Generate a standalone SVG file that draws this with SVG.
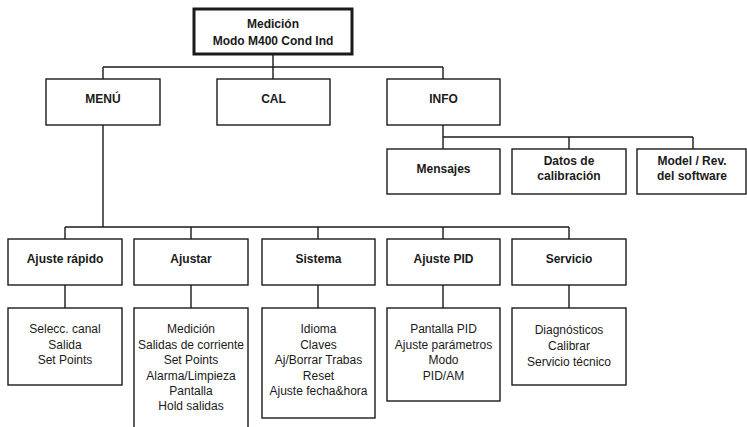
<svg xmlns="http://www.w3.org/2000/svg" width="747" height="427" viewBox="0 0 747 427">
<style>
.b{fill:#fff;stroke:#1a1a1a;stroke-width:1.4}
.t{fill:#fff;stroke:#1a1a1a;stroke-width:3}
.h{font-family:"Liberation Sans",Arial,sans-serif;font-weight:bold;font-size:12px;fill:#1a1a1a;text-anchor:middle}
.n{font-family:"Liberation Sans",Arial,sans-serif;font-size:12px;fill:#1a1a1a;text-anchor:middle}
.c{fill:none;stroke:#1a1a1a;stroke-width:1.4}
</style>
<g id="connectors" class="c">
<path d="M273 55V67M103 67H443M103 67V79M273 67V79M443 67V79"/>
<path d="M443 125V137H693M443 137V149M569 137V149M693 137V149"/>
<path d="M103 125V227M65 227H569M65 227V239M191 227V239M318 227V239M443 227V239M569 227V239"/>
<path d="M65 285V308M191 285V308M318 285V308M443 285V308M569 285V308"/>
</g>
<g id="root"><rect class="t" x="194" y="9" width="158" height="45"/><text class="h" x="273" y="28">Medición</text><text class="h" x="273" y="45">Modo M400 Cond Ind</text></g>
<g id="menu"><rect class="b" x="46" y="79" width="114" height="46"/><text class="h" x="103" y="103">MENÚ</text></g>
<g id="cal"><rect class="b" x="217" y="79" width="113" height="46"/><text class="h" x="273.5" y="103">CAL</text></g>
<g id="info"><rect class="b" x="387" y="79" width="113" height="46"/><text class="h" x="443.5" y="103">INFO</text></g>
<g id="mensajes"><rect class="b" x="387" y="149" width="113" height="45"/><text class="h" x="443.5" y="173">Mensajes</text></g>
<g id="datos"><rect class="b" x="512" y="149" width="114" height="45"/><text class="h" x="569" y="165">Datos de</text><text class="h" x="569" y="180">calibración</text></g>
<g id="model"><rect class="b" x="637" y="149" width="109" height="45"/><text class="h" x="692" y="165">Model / Rev.</text><text class="h" x="692" y="180">del software</text></g>
<g id="ajuste-rapido"><rect class="b" x="8" y="239" width="114" height="46"/><text class="h" x="65" y="263">Ajuste rápido</text></g>
<g id="ajustar"><rect class="b" x="134" y="239" width="114" height="46"/><text class="h" x="191" y="263">Ajustar</text></g>
<g id="sistema"><rect class="b" x="262" y="239" width="113" height="46"/><text class="h" x="318.5" y="263">Sistema</text></g>
<g id="ajuste-pid"><rect class="b" x="387" y="239" width="113" height="46"/><text class="h" x="443.5" y="263">Ajuste PID</text></g>
<g id="servicio"><rect class="b" x="512" y="239" width="114" height="46"/><text class="h" x="569" y="263">Servicio</text></g>
<g id="ajuste-rapido-items"><rect class="b" x="8" y="308" width="114" height="77"/><text class="n" x="65" y="333">Selecc. canal</text><text class="n" x="65" y="349">Salida</text><text class="n" x="65" y="364">Set Points</text></g>
<g id="ajustar-items"><rect class="b" x="134" y="308" width="114" height="130"/><text class="n" x="191" y="333">Medición</text><text class="n" x="191" y="349">Salidas de corriente</text><text class="n" x="191" y="364">Set Points</text><text class="n" x="191" y="380">Alarma/Limpieza</text><text class="n" x="191" y="395">Pantalla</text><text class="n" x="191" y="410">Hold salidas</text></g>
<g id="sistema-items"><rect class="b" x="262" y="308" width="113" height="110"/><text class="n" x="318.5" y="333">Idioma</text><text class="n" x="318.5" y="349">Claves</text><text class="n" x="318.5" y="364">Aj/Borrar Trabas</text><text class="n" x="318.5" y="380">Reset</text><text class="n" x="318.5" y="395">Ajuste fecha&amp;hora</text></g>
<g id="ajuste-pid-items"><rect class="b" x="387" y="308" width="113" height="93"/><text class="n" x="443.5" y="333">Pantalla PID</text><text class="n" x="443.5" y="349">Ajuste parámetros</text><text class="n" x="443.5" y="364">Modo</text><text class="n" x="443.5" y="380">PID/AM</text></g>
<g id="servicio-items"><rect class="b" x="512" y="308" width="114" height="77"/><text class="n" x="569" y="334">Diagnósticos</text><text class="n" x="569" y="350">Calibrar</text><text class="n" x="569" y="366">Servicio técnico</text></g>
</svg>
